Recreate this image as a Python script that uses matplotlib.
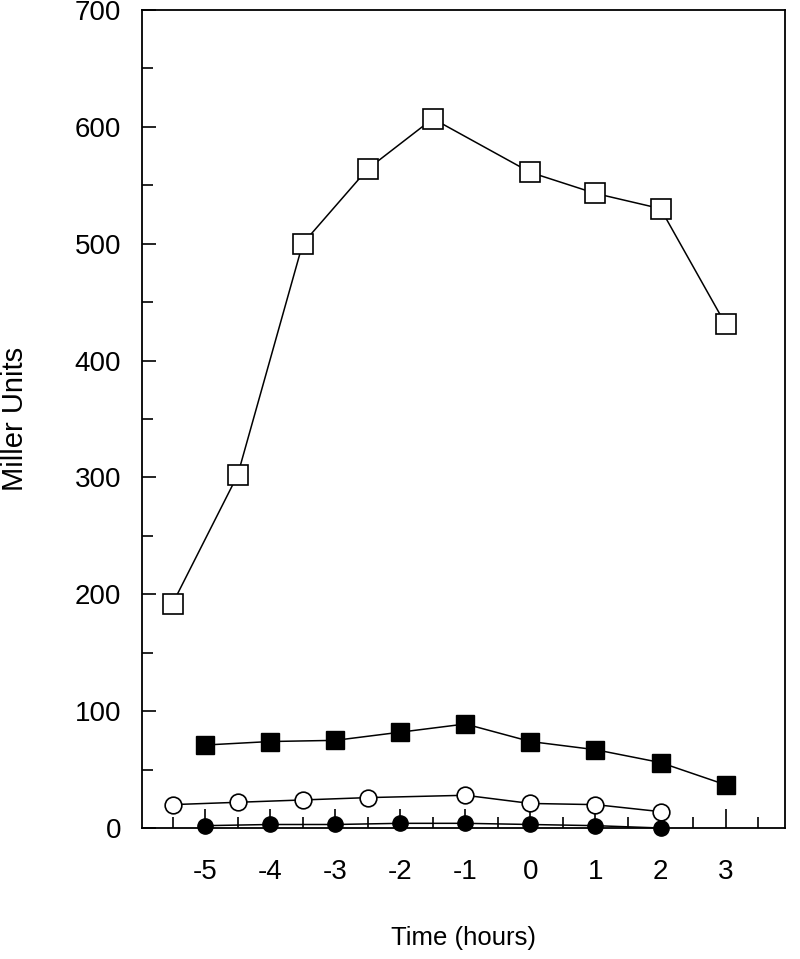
import matplotlib.pyplot as plt
from matplotlib.ticker import MultipleLocator

plt.rcParams['font.family'] = ['Liberation Sans', 'DejaVu Sans']

# open squares
x_open_sq = [-5.5, -4.5, -3.5, -2.5, -1.5, 0, 1, 2, 3]
y_open_sq = [192, 302, 500, 564, 607, 561, 543, 530, 431]

# filled squares
x_fill_sq = [-5, -4, -3, -2, -1, 0, 1, 2, 3]
y_fill_sq = [71, 74, 75, 82, 89, 74, 67, 56, 37]

# open circles
x_open_ci = [-5.5, -4.5, -3.5, -2.5, -1, 0, 1, 2]
y_open_ci = [20, 22, 24, 26, 28, 21, 20, 14]

# filled circles
x_fill_ci = [-5, -4, -3, -2, -1, 0, 1, 2]
y_fill_ci = [2, 3, 3, 4, 4, 3, 2, 0]

fig = plt.figure(figsize=(8.0, 9.59), dpi=100)
ax = fig.add_axes([0.1775, 0.1366, 0.8035, 0.853])

ax.plot(x_open_sq, y_open_sq, color='black', lw=1.1, marker='s', ms=14,
        mfc='white', mec='black', mew=1.2, clip_on=False, zorder=3)
ax.plot(x_fill_sq, y_fill_sq, color='black', lw=1.1, marker='s', ms=13,
        mfc='black', mec='black', clip_on=False, zorder=3)
ax.plot(x_open_ci, y_open_ci, color='black', lw=1.1, marker='o', ms=12,
        mfc='white', mec='black', mew=1.2, clip_on=False, zorder=3)
ax.plot(x_fill_ci, y_fill_ci, color='black', lw=1.1, marker='o', ms=11,
        mfc='black', mec='black', clip_on=False, zorder=4)

ax.set_xlim(-5.97, 3.91)
ax.set_ylim(0, 700)
ax.xaxis.set_minor_locator(MultipleLocator(0.5))
ax.yaxis.set_major_locator(MultipleLocator(100))
ax.yaxis.set_minor_locator(MultipleLocator(50))
ax.set_xticks([-5, -4, -3, -2, -1, 0, 1, 2, 3])
ax.set_xticklabels(['-5', '-4', '-3', '-2', '-1', '0', '1', '2', '3'])

ax.tick_params(axis='both', which='both', direction='in', width=1.2,
               labelsize=20, top=False, right=False)
ax.tick_params(axis='x', which='major', length=14, pad=22)
ax.tick_params(axis='x', which='minor', length=8)
ax.tick_params(axis='y', which='major', length=10, pad=15)
ax.tick_params(axis='y', which='minor', length=8)

for s in ax.spines.values():
    s.set_linewidth(1.3)

ax.set_xlabel('Time (hours)', fontsize=18.5)
ax.set_ylabel('Miller Units', fontsize=21)
ax.xaxis.set_label_coords(0.5, -0.12)
ax.yaxis.set_label_coords(-0.176, 0.5)

fig.savefig('out.png', dpi=100)
